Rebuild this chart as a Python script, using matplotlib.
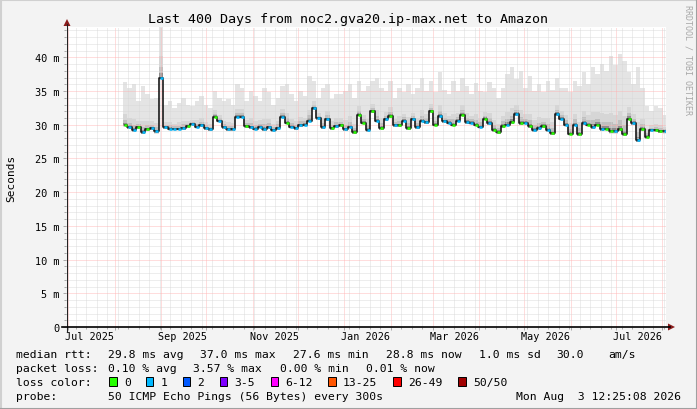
import numpy as np
import pandas as pd
import matplotlib
matplotlib.use('Agg')
import matplotlib.pyplot as plt
import matplotlib.dates as mdates
from matplotlib.ticker import MultipleLocator, FuncFormatter, NullFormatter
from matplotlib.patches import Rectangle, Polygon
from matplotlib.lines import Line2D
from matplotlib.transforms import blended_transform_factory
from datetime import datetime, timedelta

W, H = 697, 410
MONO = 'DejaVu Sans Mono'

START = datetime(2025, 6, 29, 12, 25, 8)
END = datetime(2026, 8, 3, 12, 25, 8)

FIRST_BIN = '2025-08-08'
BIN_DAYS = 3

# median rtt per bin (ms)
median_ms = [
    30.0, 29.6, 29.2, 29.6, 28.9, 29.3, 29.5, 29.0, 37.0, 29.6, 29.4, 29.4,
    29.4, 29.5, 29.8, 30.1, 29.7, 29.9, 29.5, 29.3, 31.2, 30.6, 29.6, 29.3,
    29.3, 31.2, 31.2, 29.8, 29.6, 29.4, 29.7, 29.3, 29.6, 29.2, 29.5, 31.2,
    30.3, 29.7, 29.5, 29.9, 30.0, 30.6, 32.5, 31.0, 29.6, 30.8, 29.5, 29.8,
    29.9, 29.3, 29.7, 28.9, 31.5, 30.3, 29.2, 32.0, 30.6, 29.5, 30.8, 31.3,
    29.9, 29.9, 30.6, 29.5, 30.8, 29.6, 30.6, 30.4, 32.0, 30.0, 31.3, 30.5,
    30.3,
    30.0, 30.6, 31.5, 30.4, 30.3, 30.0, 29.7, 30.9, 30.2, 29.2, 28.9, 29.8,
    30.0, 30.4, 31.6, 30.2, 30.3, 29.8, 29.2, 29.5, 29.8, 29.2, 28.8, 31.6,
    30.9,
    30.0, 28.7, 30.0, 28.6, 30.2, 30.0, 29.6, 30.0, 29.3, 29.4, 29.0, 29.0,
    29.3, 28.6, 30.9, 30.2, 27.7, 29.3, 28.2, 29.2, 29.2, 29.1, 29.0,
]

# top of the smoke (slowest pings) per bin (ms)
smoke_top_ms = [
    36.3, 35.5, 36.0, 33.5, 35.8, 34.5, 33.8, 34.0, 50.0, 33.0, 33.5, 32.5,
    33.2, 34.0, 33.0, 32.8, 33.5, 34.2, 33.0, 32.5, 35.0, 34.0, 33.5, 33.8,
    33.0, 36.0, 35.5, 33.5, 35.0, 34.2, 33.5, 35.5, 34.8, 33.0, 34.0, 35.8,
    36.0, 34.5, 33.5, 35.0, 34.3, 37.2, 36.5, 34.0, 35.5, 36.0, 33.8, 34.5,
    34.5, 35.0, 36.0, 34.0, 36.5, 35.0, 35.8, 36.5, 37.0, 35.5, 35.0, 36.5,
    34.0, 35.5, 34.8, 36.0, 34.5, 35.5, 37.0, 35.0, 36.5, 34.8, 37.8, 35.2,
    34.5,
    36.5, 35.0, 37.0, 35.8, 34.5, 36.2, 35.0, 34.8, 36.3, 35.5, 34.0, 35.5,
    37.5, 38.5, 36.8, 38.0, 35.5, 37.2, 35.0, 36.0, 34.9, 36.5, 35.2, 37.0,
    35.5,
    35.5, 34.8, 36.5, 35.8, 37.8, 36.0, 38.5, 37.5, 39.0, 38.0, 40.2, 38.8,
    40.5, 39.5, 37.8, 36.0, 38.5, 35.5, 32.8, 32.0, 32.8, 32.5, 31.5,
]

# loss class index per bin (0 -> "0", 1 -> "1")
loss_class = [
    0, 1, 1, 0, 1, 0, 1, 1, 1, 1, 1, 1, 1, 1, 0, 1, 1, 1, 1, 1, 0, 1, 1, 1,
    1, 1, 1, 0, 1, 1, 1, 1, 1, 1, 1, 1, 0, 1, 1, 1, 1, 1, 1, 1, 1, 1, 0, 1,
    0, 1, 1, 0, 0, 0, 1, 0, 1, 0, 1, 0, 1, 0, 1, 0, 1, 1, 1, 1, 0, 0, 1, 1, 1,
    0, 1, 0, 1, 1, 0, 1, 0, 1, 0, 0, 0, 1, 0, 1, 0, 1, 0, 1, 1, 0, 1, 0, 1, 1,
    1, 0, 1, 0, 1, 0, 1, 0, 1, 0, 0, 1, 0, 0, 0, 1, 1, 0, 0, 1, 0, 0, 1,
]

loss_colors = ['#26ff00', '#00b8ff', '#0059ff', '#7e00ff',
               '#ff00ff', '#ff5500', '#ff0000', '#a10000']
loss_labels = ['0', '1', '2', '3-5', '6-12', '13-25', '26-49', '50/50']
loss_box_x = [109, 145.8, 182.5, 219.5, 270.5, 328, 393, 458]

rtt_stats = ['29.8 ms avg', '37.0 ms max', '27.6 ms min', '28.8 ms now',
             '1.0 ms sd', '30.0', 'am/s']
rtt_stats_x = [107.6, 200.5, 293.4, 386.3, 479.2, 556, 608]
loss_stats = ['0.10 % avg', '3.57 % max', '0.00 % min', '0.01 % now']
loss_stats_x = [107.6, 193.5, 279.5, 365.5]

label_months = [(2025, 7), (2025, 9), (2025, 11), (2026, 1),
                (2026, 3), (2026, 5), (2026, 7)]

assert len(median_ms) == len(smoke_top_ms) == len(loss_class)


def px(x, y):
    return x / W, 1 - y / H


def ftext(fig, x, y, s, size=8.2, **kw):
    fig.text(*px(x, y), s, fontsize=size, family=MONO,
             va='center_baseline', **kw)


def main():
    dates = pd.date_range(FIRST_BIN, periods=len(median_ms), freq=f'{BIN_DAYS}D')
    xd = mdates.date2num(dates.to_pydatetime())
    med = np.array(median_ms)
    top = np.array(smoke_top_ms)

    fig = plt.figure(figsize=(W / 100, H / 100), dpi=100, facecolor='#f3f3f3')
    ax = fig.add_axes([66 / W, (H - 328) / H, 600 / W, 300 / H])
    ax.set_facecolor('white')

    # smoke
    spread = top - med
    base = med - 0.3
    ax.bar(xd, top - base, bottom=base, width=BIN_DAYS, color='#e4e4e4',
           linewidth=0, zorder=1)
    for frac, col in [(0.25, '#d6d6d6'), (0.12, '#bfbfbf'), (0.05, '#8c8c8c')]:
        ax.bar(xd, 0.25 + spread * frac, bottom=med - 0.25, width=BIN_DAYS,
               color=col, linewidth=0, zorder=1.1)

    # median line coloured by loss
    ax.step(xd, med, where='mid', color='#1a1a1a', lw=1.2, zorder=3)
    ax.hlines(med, xd - 1.0, xd + 1.0,
              colors=[loss_colors[c] for c in loss_class], lw=1.8, zorder=4)

    ax.set_xlim(mdates.date2num(START), mdates.date2num(END))
    ax.set_ylim(0, 44.5)

    # grid
    ax.set_axisbelow(False)
    ax.xaxis.set_major_locator(mdates.MonthLocator())
    ax.xaxis.set_minor_locator(mdates.WeekdayLocator(byweekday=mdates.SU))
    ax.xaxis.set_major_formatter(NullFormatter())
    ax.yaxis.set_major_locator(MultipleLocator(5))
    ax.yaxis.set_minor_locator(MultipleLocator(1))
    ax.yaxis.set_major_formatter(FuncFormatter(lambda v, p: '0' if v == 0 else f'{v:.0f} m'))
    ax.grid(which='major', color='#ffb0b0', lw=0.6, linestyle=(0, (1.2, 1.2)))
    ax.grid(which='minor', color='#d6d6d6', lw=0.6, linestyle=(0, (1.2, 1.2)))
    ax.tick_params(which='both', direction='out', color='#aaaaaa', width=0.72)
    ax.tick_params(which='major', length=2.2)
    ax.tick_params(which='minor', length=1.5)
    ax.tick_params(axis='y', labelsize=7.4, pad=2.6)
    for lbl in ax.get_yticklabels():
        lbl.set_family(MONO)
    for s in ax.spines.values():
        s.set_visible(False)

    # month labels
    tr = blended_transform_factory(ax.transData, fig.transFigure)
    for y, m in label_months:
        d = datetime(y, m, 1) + timedelta(days=14.3)
        ax.text(mdates.date2num(d), 1 - 337.5 / H, d.strftime('%b %Y'),
                transform=tr, ha='center', va='center', fontsize=7.3,
                family=MONO, clip_on=False)

    # axes with arrows
    arrow_col = '#8b1c1c'
    fig.add_artist(Line2D([67 / W, 67 / W], [1 - 333 / H, 1 - 25 / H],
                          color='#222222', lw=0.8))
    fig.add_artist(Line2D([62 / W, 670 / W], [1 - 328 / H, 1 - 328 / H],
                          color='#000000', lw=1.2))
    fig.add_artist(Polygon([px(63.5, 27), px(70.5, 27), px(67, 20)],
                           closed=True, color=arrow_col, lw=0))
    fig.add_artist(Polygon([px(668, 324.5), px(668, 331.5), px(675, 328)],
                           closed=True, color=arrow_col, lw=0))

    # frame shading
    fig.add_artist(Line2D([0.5 / W, 0.5 / W], [0, 1], color='#d0d0d0', lw=1.5))
    fig.add_artist(Line2D([0, 1], [1 - 0.5 / H, 1 - 0.5 / H], color='#d0d0d0', lw=1.5))
    fig.add_artist(Line2D([1 - 0.5 / W, 1 - 0.5 / W], [0, 1], color='#a0a0a0', lw=1.5))
    fig.add_artist(Line2D([0, 1], [0.5 / H, 0.5 / H], color='#a0a0a0', lw=1.5))

    # titles
    fig.text(*px(348.5, 19.5), 'Last 400 Days from noc2.gva20.ip-max.net to Amazon',
             fontsize=9.6, family=MONO, ha='center', va='center')
    fig.text(*px(11, 178), 'Seconds', fontsize=8, family=MONO, rotation=90,
             ha='center', va='center')
    fig.text(*px(688, 60), 'RRDTOOL / TOBI OETIKER', fontsize=6, family=MONO,
             rotation=-90, ha='center', va='center', color='#a8a8a8')

    # legend
    ftext(fig, 16.4, 354, 'median rtt:')
    for x, s in zip(rtt_stats_x, rtt_stats):
        ftext(fig, x, 354, s)
    ftext(fig, 16.4, 368, 'packet loss:')
    for x, s in zip(loss_stats_x, loss_stats):
        ftext(fig, x, 368, s)
    ftext(fig, 16.4, 382, 'loss color:')
    for x, col, s in zip(loss_box_x, loss_colors, loss_labels):
        x0, y0 = px(x, 386.5)
        fig.add_artist(Rectangle((x0, y0), 7.5 / W, 9 / H, facecolor=col,
                                 edgecolor='black', lw=0.7))
        ftext(fig, x + 14.8, 382, s)
    ftext(fig, 16.4, 396, 'probe:')
    ftext(fig, 107.6, 396, '50 ICMP Echo Pings (56 Bytes) every 300s')
    ftext(fig, 681, 396, 'Mon Aug  3 12:25:08 2026', ha='right')

    fig.savefig('out.png', dpi=100, facecolor=fig.get_facecolor())


if __name__ == '__main__':
    main()
